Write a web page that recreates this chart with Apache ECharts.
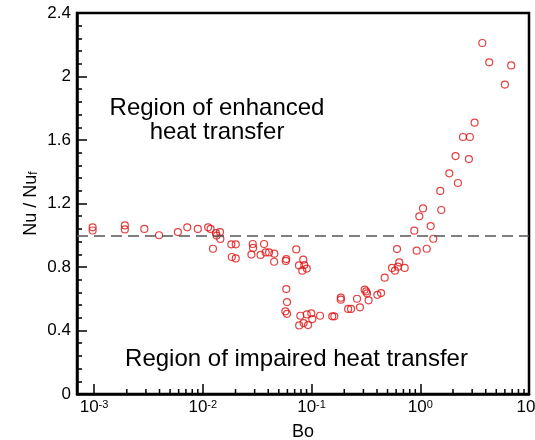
<!DOCTYPE html>
<html>
<head>
<meta charset="utf-8">
<script src="https://cdn.jsdelivr.net/npm/echarts@6/dist/echarts.min.js"></script>
<style>
  html, body { margin: 0; padding: 0; background: #fff; }
  #chart { width: 535px; height: 440px; }
</style>
</head>
<body>
<div id="chart"></div>
<script>
// Bo values and Nu/Nu_f
const bo = [
  0.00097, 0.00097, 0.00192, 0.00192, 0.0029, 0.00396, 0.0059, 0.0072, 0.0090, 0.0112,
  0.0118, 0.0132, 0.0134, 0.0144, 0.0145, 0.0124, 0.0183, 0.0201, 0.0185, 0.0201,
  0.0288, 0.0290, 0.0280, 0.0340, 0.0366, 0.0379, 0.0407, 0.0455, 0.0453, 0.0586,
  0.0580, 0.0724, 0.0840, 0.0767, 0.0858, 0.0904, 0.0822, 0.0586, 0.0595, 0.0575,
  0.0595, 0.0789, 0.0904, 0.0995, 0.1016, 0.0770, 0.0846, 0.0929, 0.1197, 0.155,
  0.162, 0.186, 0.186, 0.217, 0.231, 0.262, 0.279, 0.308, 0.318, 0.324,
  0.335, 0.403, 0.436, 0.471, 0.55, 0.585, 0.624, 0.641, 0.719, 0.611,
  0.881, 0.927, 0.98, 1.06, 1.146, 1.247, 1.318, 1.528, 1.56, 1.85,
  2.22, 2.11, 2.80, 2.47, 2.86, 3.16, 3.72, 4.31, 6.0, 6.86
];
const nuRatio = [
  1.05, 1.03, 1.062, 1.037, 1.04, 1.0, 1.02, 1.05, 1.04, 1.05,
  1.04, 1.014, 0.998, 1.02, 0.977, 0.915, 0.943, 0.943, 0.863, 0.854,
  0.945, 0.92, 0.878, 0.876, 0.945, 0.892, 0.892, 0.884, 0.833, 0.85,
  0.838, 0.911, 0.846, 0.81, 0.812, 0.79, 0.777, 0.661, 0.579, 0.521,
  0.505, 0.493, 0.501, 0.508, 0.472, 0.432, 0.447, 0.434, 0.493, 0.489,
  0.489, 0.607, 0.594, 0.536, 0.536, 0.600, 0.546, 0.657, 0.646, 0.634,
  0.59, 0.625, 0.636, 0.733, 0.794, 0.777, 0.802, 0.829, 0.794, 0.913,
  1.029, 0.903, 1.119, 1.169, 0.915, 1.058, 0.978, 1.279, 1.159, 1.39,
  1.329, 1.499, 1.48, 1.619, 1.619, 1.709, 2.211, 2.089, 1.949, 2.07
];
const refLine = 1;
const minorMantissa = [2, 3, 4, 5, 6, 7, 8, 9];
const minorDecades = [0.001, 0.01, 0.1, 1];

const points = bo.map((b, i) => [b, nuRatio[i]]);
const minorTicks = [];
minorDecades.forEach(d => minorMantissa.forEach(m => minorTicks.push([+(m * d).toPrecision(3)])));

const FONT = 'Liberation Sans';
const chart = echarts.init(document.getElementById('chart'));

chart.setOption({
  animation: false,
  backgroundColor: '#fff',
  grid: {
    left: 77, right: 6, top: 13, bottom: 46,
    outerBoundsMode: 'none',
    containLabel: false,
    show: true, borderColor: '#000', borderWidth: 2.5, backgroundColor: 'transparent'
  },
  xAxis: {
    type: 'log',
    logBase: 10,
    min: 0.000697,
    max: 10,
    name: 'Bo',
    nameLocation: 'middle',
    nameGap: 29,
    nameMoveOverlap: false,
    nameTextStyle: { fontFamily: FONT, fontSize: 18, color: '#000' },
    axisLine: { show: true, lineStyle: { color: '#000', width: 2.5 } },
    axisTick: { show: true, inside: true, length: 10, lineStyle: { color: '#000', width: 1.5 } },
    splitLine: { show: false },
    axisLabel: {
      margin: 5,
      fontFamily: FONT,
      color: '#000',
      formatter: function (v) {
        const e = Math.log10(v);
        if (Math.abs(e - Math.round(e)) > 1e-6) return '';
        return '{a|10}{b|' + Math.round(e) + '}';
      },
      rich: {
        a: { fontFamily: FONT, fontSize: 17, color: '#000' },
        b: { fontFamily: FONT, fontSize: 11, color: '#000', verticalAlign: 'top' }
      }
    }
  },
  yAxis: {
    type: 'value',
    min: 0,
    max: 2.4,
    interval: 0.4,
    name: '{a|Nu / Nu}{b|f}',
    nameLocation: 'middle',
    nameGap: 37,
    nameMoveOverlap: false,
    nameTextStyle: {
      rich: {
        a: { fontFamily: FONT, fontSize: 18, color: '#000' },
        b: { fontFamily: FONT, fontSize: 12, color: '#000', verticalAlign: 'bottom' }
      }
    },
    axisLine: { show: true, lineStyle: { color: '#000', width: 2.5 } },
    axisTick: { show: true, inside: true, length: 10, lineStyle: { color: '#000', width: 1.5 } },
    minorTick: { show: true, splitNumber: 5, length: 5, lineStyle: { color: '#000', width: 1.5 } },
    splitLine: { show: false },
    axisLabel: { margin: 6, fontFamily: FONT, fontSize: 17, color: '#000' }
  },
  graphic: [
    {
      type: 'text',
      style: {
        x: 217, y: 120.5,
        text: 'Region of enhanced\nheat transfer',
        font: '24px "Liberation Sans"',
        fill: '#000',
        align: 'center',
        verticalAlign: 'middle',
        lineHeight: 24
      }
    },
    {
      type: 'text',
      style: {
        x: 296.5, y: 359,
        text: 'Region of impaired heat transfer',
        font: '24px "Liberation Sans"',
        fill: '#000',
        align: 'center',
        verticalAlign: 'middle'
      }
    }
  ],
  series: [
    {
      type: 'custom',
      silent: true,
      data: minorTicks,
      encode: { x: 0 },
      renderItem: function (params, api) {
        const p = api.coord([api.value(0), 0]);
        return {
          type: 'line',
          shape: { x1: p[0], y1: p[1], x2: p[0], y2: p[1] - 5 },
          style: { stroke: '#000', lineWidth: 1.5 }
        };
      }
    },
    {
      type: 'scatter',
      data: points,
      symbol: 'circle',
      symbolSize: 7,
      itemStyle: { color: 'rgba(255,255,255,0)', borderColor: '#dd1111', borderWidth: 1.2 },
      markLine: {
        silent: true,
        symbol: 'none',
        label: { show: false },
        lineStyle: { color: '#555', width: 1.5, type: [11, 6] },
        data: [{ yAxis: refLine }]
      }
    }
  ]
});
</script>
</body>
</html>
